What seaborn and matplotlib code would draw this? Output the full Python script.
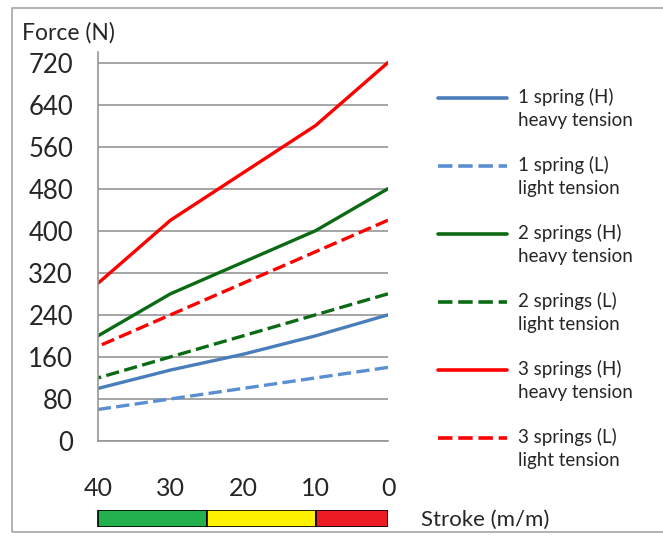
import numpy as np
import pandas as pd
import matplotlib
matplotlib.use("Agg")
import matplotlib.pyplot as plt
import seaborn as sns

### data
stroke = [40, 30, 20, 10, 0]
one_h = [100, 135, 165, 200, 240]
one_l = [60, 80, 100, 120, 140]
two_h = [200, 280, 340, 400, 480]
two_l = [120, 160, 200, 240, 280]
three_h = [300, 420, 510, 600, 720]
three_l = [180, 240, 300, 360, 420]

labels = ["1 spring (H)\nheavy tension", "1 spring (L)\nlight tension",
          "2 springs (H)\nheavy tension", "2 springs (L)\nlight tension",
          "3 springs (H)\nheavy tension", "3 springs (L)\nlight tension"]

zone_start = [40, 25, 10]
zone_width = [-15, -15, -10]
zone_colors = ["#22b14c", "#fff200", "#ed1c24"]

yticks = list(range(0, 721, 80))
xticks = [40, 30, 20, 10, 0]

df = pd.DataFrame({
    "stroke": stroke * 6,
    "force": one_h + one_l + two_h + two_l + three_h + three_l,
    "series": sum([[lab] * 5 for lab in labels], []),
})

sns.set_style("white")
plt.rcParams["font.family"] = ["Lato", "DejaVu Sans"]

palette = {labels[0]: "#4a7ebb", labels[1]: "#5a8fd2",
           labels[2]: "#0b6b14", labels[3]: "#0b6b14",
           labels[4]: "#ff0000", labels[5]: "#ff0000"}
dash_map = {labels[0]: "", labels[1]: (4, 1.6),
            labels[2]: "", labels[3]: (4, 1.6),
            labels[4]: "", labels[5]: (4, 1.6)}

fig = plt.figure(figsize=(6.63, 5.39), dpi=100)
ax = fig.add_axes([98 / 663, 1 - 441 / 539, 290 / 663, 389 / 539])

sns.lineplot(data=df, x="stroke", y="force", hue="series", style="series",
             palette=palette, dashes=dash_map, hue_order=labels, style_order=labels,
             linewidth=2.4, ax=ax, legend=True)

ax.set_xlim(40, 0)
ax.set_ylim(0, 740)
ax.set_yticks(yticks)
ax.set_xticks(xticks)
ax.grid(axis="y", color="#969696", linewidth=1.2)
ax.set_axisbelow(True)
for side in ["top", "right"]:
    ax.spines[side].set_visible(False)
for side in ["left", "bottom"]:
    ax.spines[side].set_color("#969696")
    ax.spines[side].set_linewidth(1.2)
ax.tick_params(axis="y", length=0, labelsize=18.5, pad=18, labelcolor="#262626")
ax.tick_params(axis="x", direction="inout", length=12, width=1.2, color="#969696",
               labelsize=18, pad=20, labelcolor="#262626")
ax.set_xlabel("")
ax.set_ylabel("")
fig.text(22 / 663, 1 - 33 / 539, "Force (N)", fontsize=16.5, color="#262626", va="center")

leg = ax.legend(loc="upper left", bbox_to_anchor=(438 / 663, 1 - 88 / 539),
                bbox_transform=fig.transFigure, frameon=False, fontsize=13.5,
                handlelength=3.7, handletextpad=0.55, labelspacing=1.42,
                borderaxespad=0, borderpad=0)
for line in leg.get_lines():
    line.set_linewidth(2.6)
    # put the handle level with the first line of its label
    line.set_ydata(np.asarray(line.get_ydata()) + 8.3)
for t in leg.get_texts():
    t.set_color("#262626")
    t.set_linespacing(1.45)

# stroke colour bar under the x axis
bax = fig.add_axes([96 / 663, 1 - 527 / 539, 292 / 663, 17 / 539])
bax.barh([0, 0, 0], zone_width, left=zone_start, color=zone_colors,
         edgecolor="black", linewidth=1.2, height=1)
bax.set_xlim(40.3, 0)
bax.set_ylim(-0.5, 0.5)
bax.axis("off")
fig.text(421 / 663, 1 - 520 / 539, "Stroke (m/m)", fontsize=16, color="#262626", va="center")

# frame
fig.patches.append(plt.Rectangle((12 / 663, 1 - 532 / 539), 700 / 663, 524 / 539,
                                 transform=fig.transFigure, fill=False,
                                 edgecolor="#a6a6a6", linewidth=1.2))

fig.savefig("out.png", dpi=100)
